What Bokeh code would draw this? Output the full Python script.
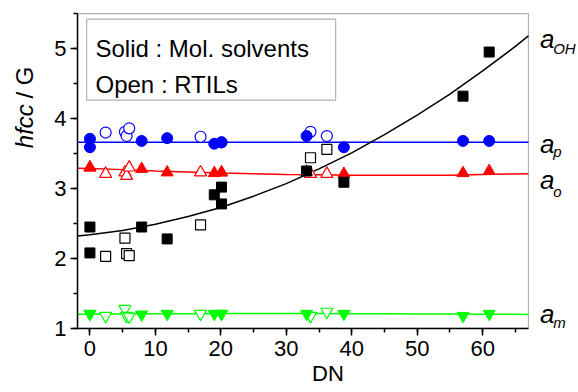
import math
from bokeh.plotting import figure
from bokeh.layouts import row
from bokeh.models import Label, BoxAnnotation, SingleIntervalTicker, Range1d
from bokeh.embed import file_html
from bokeh.resources import INLINE

# ---------------- data ----------------
# molecular solvents (solid symbols)
mol_dn = [0, 0, 7.9, 11.8, 19.0, 20.1, 20.1, 33.1, 38.8, 57.0, 61.0]
mol_ap = [3.71, 3.59, 3.68, 3.72, 3.64, 3.66, 3.66, 3.75, 3.59, 3.68, 3.68]
mol_ao = [3.30, 3.30, 3.28, 3.23, 3.22, 3.23, 3.23, 3.24, 3.21, 3.22, 3.25]
mol_aoh = [2.45, 2.08, 2.45, 2.28, 2.91, 3.02, 2.78, 3.25, 3.09, 4.32, 4.95]
mol_am = [1.21, 1.21, 1.20, 1.21, 1.21, 1.21, 1.21, 1.21, 1.21, 1.18, 1.21]

# RTILs (open symbols)
il_dn = [2.4, 5.35, 5.6, 6.0, 16.9, 33.7, 36.2]
il_ap = [3.80, 3.81, 3.75, 3.86, 3.74, 3.81, 3.75]
il_ao = [3.21, 3.23, 3.18, 3.30, 3.23, 3.21, 3.21]
il_aoh = [2.03, 2.29, 2.07, 2.04, 2.48, 3.44, 3.56]
il_am = [1.18, 1.28, 1.18, 1.17, 1.21, 1.18, 1.24]

# fitted curves
fit_dn = [-1.9, 0, 5, 10, 15, 20, 25, 30, 35, 40, 45, 50, 55, 60, 65, 67]
fit_aoh = [2.32, 2.34, 2.40, 2.49, 2.60, 2.73, 2.89, 3.07, 3.28, 3.51, 3.77, 4.05, 4.35, 4.68, 5.03, 5.18]
fit_ap = [3.66] * 16
fit_ao = [3.29, 3.285, 3.27, 3.25, 3.235, 3.22, 3.21, 3.20, 3.195, 3.19, 3.188, 3.188, 3.19, 3.20, 3.208, 3.21]
fit_am = [1.205, 1.206, 1.208, 1.21, 1.212, 1.214, 1.215, 1.215, 1.214, 1.212, 1.21, 1.208, 1.206, 1.204, 1.202, 1.20]

x_min, x_max = -1.9, 67
y_min, y_max = 1, 5.5
x_ticks_interval = 10
y_ticks_interval = 1

FONT = "Liberation Sans"
BLUE, RED, BLACK, GREEN = "#0000FF", "#FF0000", "#000000", "#00FF00"

# ---------------- left strip holding the y-axis title ----------------
pl = figure(width=42, height=392, x_range=Range1d(0, 42), y_range=Range1d(0, 392),
            x_axis_type=None, y_axis_type=None, output_backend="svg", toolbar_location=None,
            min_border=0)
pl.outline_line_color = None
pl.xgrid.visible = False
pl.ygrid.visible = False
pl.background_fill_color = "white"
pl.border_fill_color = "white"
pl.add_layout(Label(x=24, y=180.3, x_units="screen", y_units="screen", text="hfcc",
                    angle=math.pi / 2, text_font=FONT, text_font_size="24px", text_font_style="italic",
                    text_align="left", text_baseline="middle", text_color="black"))
pl.add_layout(Label(x=24, y=230, x_units="screen", y_units="screen", text="/ G",
                    angle=math.pi / 2, text_font=FONT, text_font_size="24px",
                    text_align="left", text_baseline="middle", text_color="black"))

# ---------------- main plot ----------------
# frame runs from x=77 to the right edge; the data box itself stops at x_max
p = figure(width=536, height=392,
           x_range=Range1d(x_min, x_min + 501 / 6.545), y_range=Range1d(y_min, y_max + 0.015),
           output_backend="svg", toolbar_location=None,
           min_border_left=35, min_border_right=0, min_border_top=12, min_border_bottom=64)
p.background_fill_color = "white"
p.border_fill_color = "white"
p.outline_line_color = None
p.xgrid.visible = False
p.ygrid.visible = False

for ax, tk in ((p.xaxis[0], SingleIntervalTicker(interval=x_ticks_interval, num_minor_ticks=2)),
               (p.yaxis[0], SingleIntervalTicker(interval=y_ticks_interval, num_minor_ticks=2))):
    ax.ticker = tk
    ax.axis_line_width = 1.5
    ax.major_tick_line_width = 1.5
    ax.minor_tick_line_width = 1.5
    ax.major_tick_in = 0
    ax.major_tick_out = 7
    ax.minor_tick_in = 0
    ax.minor_tick_out = 4
    ax.major_label_text_font = FONT
    ax.major_label_text_font_size = "22px"
    ax.major_label_text_color = "black"
    ax.major_label_standoff = 4
p.xaxis.bounds = (x_min, x_max)
p.yaxis.bounds = (y_min, y_max)
p.xaxis.major_label_standoff = 5
p.xaxis.axis_label = "DN"
p.xaxis.axis_label_text_font = FONT
p.xaxis.axis_label_text_font_size = "22px"
p.xaxis.axis_label_text_font_style = "normal"
p.xaxis.axis_label_text_color = "black"
p.xaxis.axis_label_standoff = 2

# plot box (top and right sides)
p.add_layout(BoxAnnotation(left=x_min, right=x_max, bottom=y_min, top=y_max,
                           fill_alpha=0, line_color="black", line_width=1.3, level="underlay"))

# fitted lines
p.line(fit_dn, fit_ap, line_color=BLUE, line_width=1.5)
p.line(fit_dn, fit_ao, line_color=RED, line_width=1.5)
p.line(fit_dn, fit_am, line_color=GREEN, line_width=1.5)
p.line(fit_dn, fit_aoh, line_color=BLACK, line_width=1.5)

# open symbols (RTILs)
p.scatter(il_dn, il_ap, marker="circle", size=11, fill_color="white", line_color=BLUE, line_width=1.2)
p.scatter(il_dn, il_ao, marker="triangle", size=12, fill_color="white", line_color=RED, line_width=1.2)
p.scatter(il_dn, il_aoh, marker="square", size=10, fill_color="white", line_color=BLACK, line_width=1.2)
p.scatter(il_dn, il_am, marker="inverted_triangle", size=12, fill_color="white", line_color=GREEN, line_width=1.2)

# solid symbols (molecular solvents)
p.scatter(mol_dn, mol_ap, marker="circle", size=11, fill_color=BLUE, line_color=BLUE)
p.scatter(mol_dn, mol_ao, marker="triangle", size=12, fill_color=RED, line_color=RED)
p.scatter(mol_dn, mol_aoh, marker="square", size=10, fill_color=BLACK, line_color=BLACK)
p.scatter(mol_dn, mol_am, marker="inverted_triangle", size=12, fill_color=GREEN, line_color=GREEN)

# legend box
p.add_layout(BoxAnnotation(left=-0.5, right=37.54, bottom=4.263, top=5.42,
                           fill_color="white", fill_alpha=1.0, line_color="black", line_width=1.2))
for txt, sy in (("Solid : Mol. solvents", 280.4), ("Open : RTILs", 243.7)):
    p.add_layout(Label(x=18, y=sy, x_units="screen", y_units="screen", text=txt,
                       text_font=FONT, text_font_size="24px", text_color="black",
                       text_align="left", text_baseline="alphabetic"))

# right-side series labels
for main_y, sub, sub_y in ((289.4, "OH", 280.4), (185.0, "p", 176.7), (148.4, "o", 137.0), (15.0, "m", 6.0)):
    p.add_layout(Label(x=462.5, y=main_y, x_units="screen", y_units="screen", text="a",
                       text_font=FONT, text_font_size="26px", text_font_style="italic",
                       text_align="left", text_baseline="alphabetic", text_color="black"))
    p.add_layout(Label(x=475.7, y=sub_y, x_units="screen", y_units="screen", text=sub,
                       text_font=FONT, text_font_size="15px", text_font_style="italic",
                       text_align="left", text_baseline="alphabetic", text_color="black"))

layout = row(pl, p, spacing=0)
open("out.html", "w").write(file_html(layout, INLINE))
